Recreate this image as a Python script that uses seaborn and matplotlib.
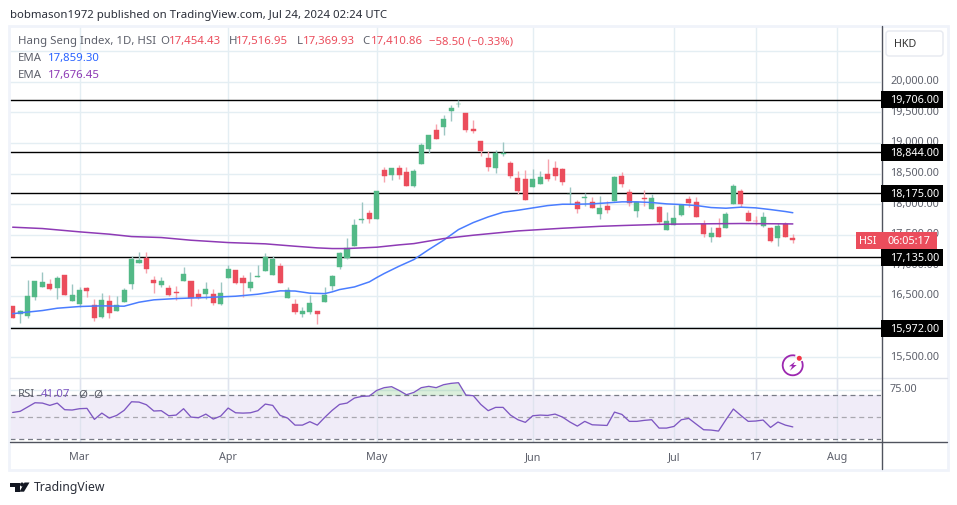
import numpy as np
import pandas as pd
import matplotlib
matplotlib.use('Agg')
import matplotlib.pyplot as plt
from matplotlib.patches import Arc, Circle, FancyBboxPatch, Polygon, Rectangle
from matplotlib.transforms import ScaledTranslation, blended_transform_factory
import seaborn as sns

open_px = [16332, 16201, 16169, 16479, 16643, 16692, 16626, 16839, 16414, 16365, 16626, 16348, 16152, 16414, 16250, 16397,
           16692, 17035, 17116, 16757, 16675, 16626, 16561, 16741, 16741, 16528, 16528, 16528, 16365, 16790, 16920, 16790,
           16626, 16806, 16904, 16839, 16986, 16463, 16365, 16201, 16234, 16250, 16397, 16658, 16969, 17127, 17312, 17742,
           17851, 17753, 18554, 18472, 18586, 18521, 18292, 18652, 18897, 19207, 19256, 19518, 19638, 19485, 19224, 19028,
           18750, 18586, 18826, 18668, 18423, 18407, 18276, 18325, 18488, 18586, 18570, 18167, 18031, 18107, 18031, 17835,
           17966, 18048, 18456, 18195, 17884, 18097, 17917, 17950, 17574, 17655, 17819, 18080, 18031, 17672, 17459, 17606,
           17606, 17999, 18211, 17852, 17732, 17639, 17606, 17443, 17683, 17454.43]
high_px = [16332, 16267, 16757, 16741, 16888, 16773, 16822, 16839, 16692, 16643, 16643, 16447, 16545, 16512, 16495, 16626,
           17149, 17214, 17214, 16822, 16806, 16675, 16659, 16969, 16741, 16610, 16724, 16610, 16724, 17002, 16920, 16839,
           16888, 17002, 17198, 17149, 17035, 16643, 16447, 16316, 16512, 16250, 16642, 16838, 17214, 17443, 17753, 18031,
           17900, 18211, 18603, 18586, 18635, 18603, 18570, 18995, 19126, 19305, 19452, 19616, 19708, 19485, 19371, 19028,
           18864, 18881, 19011, 18701, 18537, 18554, 18570, 18537, 18733, 18701, 18586, 18276, 18063, 18178, 18113, 18129,
           18048, 18456, 18522, 18244, 18031, 18227, 18162, 17966, 17868, 17982, 17999, 18129, 18113, 17737, 17623, 17770,
           17868, 18325, 18244, 17901, 17802, 17868, 17623, 17688, 17704, 17516.95]
low_px = [16136, 16060, 16136, 16430, 16643, 16594, 16447, 16512, 16414, 16316, 16479, 16087, 16136, 16136, 16250, 16397,
          16610, 17035, 16871, 16545, 16643, 16495, 16430, 16741, 16332, 16447, 16447, 16348, 16348, 16790, 16692, 16479,
          16577, 16806, 16904, 16839, 16708, 16463, 16201, 16152, 16201, 16038, 16397, 16593, 16936, 17110, 17312, 17688,
          17688, 17753, 18358, 18390, 18407, 18292, 18276, 18652, 18832, 19060, 19126, 19354, 19583, 19175, 19158, 18783,
          18537, 18505, 18783, 18423, 18162, 18063, 18276, 18325, 18374, 18390, 18309, 17998, 17851, 17965, 17933, 17753,
          17852, 18048, 18276, 17966, 17786, 17966, 17917, 17672, 17574, 17655, 17802, 17950, 17786, 17459, 17378, 17459,
          17606, 17999, 17950, 17721, 17655, 17623, 17378, 17312, 17459, 17369.93]
close_px = [16136, 16250, 16495, 16741, 16724, 16610, 16790, 16512, 16512, 16594, 16577, 16136, 16430, 16218, 16348, 16594,
            17100, 17084, 16937, 16708, 16741, 16512, 16545, 16855, 16474, 16463, 16610, 16381, 16545, 16937, 16708, 16708,
            16724, 16822, 17133, 17100, 16708, 16594, 16234, 16250, 16381, 16201, 16511, 16822, 17198, 17279, 17655, 17753,
            17753, 18211, 18456, 18586, 18472, 18292, 18537, 18962, 19126, 19060, 19387, 19567, 19643, 19207, 19191, 18864,
            18603, 18832, 18832, 18456, 18211, 18063, 18407, 18439, 18407, 18456, 18358, 18172, 17916, 18113, 17933, 17933,
            17901, 18440, 18325, 18015, 18031, 18086, 18097, 17704, 17721, 17770, 17982, 18015, 17786, 17508, 17525, 17459,
            17835, 18293, 17999, 17721, 17721, 17786, 17394, 17639, 17459, 17410.86]

ema_fast_bars = [0, 1, 4, 6, 9, 12, 15, 17, 19, 22, 26, 30, 33, 36, 38, 40, 42, 43, 44, 46, 48, 49, 50, 52, 54, 56, 58, 60,
                 62, 64, 66, 68, 70, 72, 74, 76, 78, 80, 82, 84, 86, 88, 90, 92, 94, 96, 98, 100, 102, 104, 105]
ema_fast = [16210, 16223, 16261, 16299, 16327, 16338, 16332, 16397, 16436, 16457, 16474, 16495, 16528, 16583, 16580, 16545,
            16538, 16566, 16604, 16647, 16729, 16800, 16866, 16985, 17094, 17257, 17410, 17584, 17699, 17791, 17867, 17900,
            17938, 17976, 17998, 17998, 18004, 18020, 18037, 18037, 18026, 18004, 17993, 17977, 17944, 17933, 17950, 17939,
            17911, 17879, 17859.30]
ema_slow_bars = [0, 4, 9, 13, 16, 20, 24, 29, 34, 38, 41, 43, 45, 47, 49, 52, 54, 58, 62, 68, 74, 79, 82, 88, 92, 98, 105]
ema_slow = [17623, 17601, 17547, 17509, 17470, 17454, 17410, 17372, 17351, 17312, 17285, 17274, 17274, 17285, 17296, 17334,
            17355, 17437, 17492, 17562, 17606, 17637, 17650, 17672, 17677, 17683, 17676.45]

rsi = [54.2, 55.2, 59.1, 63.0, 62.7, 60.6, 62.7, 56.7, 56.4, 57.6, 57.9, 47.9, 53.6, 49.1, 51.5, 56.1,
       63.9, 63.6, 61.2, 55.5, 55.8, 51.2, 51.8, 57.6, 50.0, 49.4, 52.7, 48.2, 50.9, 58.2, 53.9, 53.6,
       53.9, 55.8, 61.8, 60.6, 51.5, 49.1, 42.7, 42.7, 45.8, 42.7, 49.7, 56.1, 61.5, 62.7, 67.3, 68.8,
       69.1, 74.2, 76.7, 77.6, 74.2, 70.3, 72.4, 76.7, 77.9, 76.7, 79.4, 80.6, 81.2, 70.0, 69.4, 61.5,
       55.8, 58.8, 58.8, 51.8, 47.6, 45.2, 51.2, 51.8, 51.5, 52.7, 50.0, 45.5, 41.8, 46.1, 43.0, 42.7,
       42.4, 54.5, 52.4, 46.1, 46.1, 47.0, 47.6, 40.0, 40.0, 41.5, 47.6, 48.8, 43.6, 38.5, 38.2, 37.3,
       47.6, 57.3, 51.5, 46.1, 46.4, 47.3, 40.6, 45.5, 42.7, 41.07]

levels = [19706, 18844, 18175, 17135, 15972]
level_labels = ['19,706.00', '18,844.00', '18,175.00', '17,135.00', '15,972.00']
price_ticks = [15500, 16000, 16500, 17000, 17500, 18000, 18500, 19000, 19500, 20000]
price_grid = price_ticks + [20500]
date_bars = [9, 29, 49, 70, 89, 100, 111]
date_labels = ['Mar', 'Apr', 'May', 'Jun', 'Jul', '17', 'Aug']

GREEN = '#53b987'
RED = '#eb4d5c'
GRID = '#e4eef3'
TEXT = '#5d606b'
FS = 8.2
TICK_FS = 7.8

sns.set_theme(style='white')
plt.rcParams['font.family'] = ['Noto Sans', 'DejaVu Sans']

fig = plt.figure(figsize=(9.57, 5.06), dpi=100, facecolor='white')


def box(x0, y0, x1, y1):
    return [x0 / 957, 1 - y1 / 506, (x1 - x0) / 957, (y1 - y0) / 506]


ax = fig.add_axes(box(10, 28, 881, 379.3))
ax_rsi = fig.add_axes(box(10, 379.3, 881, 443.3))
top = fig.add_axes([0, 0, 1, 1], zorder=10)
top.set_xlim(0, 957)
top.set_ylim(506, 0)
top.axis('off')
top.patch.set_visible(False)

bars = np.arange(len(close_px))
opens = np.array(open_px)
closes = np.array(close_px)
up = closes >= opens

for a in (ax, ax_rsi):
    a.set_xlim(-0.36, 116.87)
    a.set_xticks(date_bars)
    a.grid(False)
    for x in date_bars:
        a.axvline(x, color=GRID, lw=1, zorder=0)
    for s in a.spines.values():
        s.set_visible(False)

# price pane
ax.set_ylim(15154, 20894)
for p in price_grid:
    ax.axhline(p, color=GRID, lw=1, zorder=0)
for lv in levels:
    ax.axhline(lv, color='black', lw=1.0, zorder=1)

ax.vlines(bars[up], np.array(low_px)[up], np.array(high_px)[up], color='#9cc6c2', lw=1.0, zorder=2)
ax.vlines(bars[~up], np.array(low_px)[~up], np.array(high_px)[~up], color='#f6a3ad', lw=1.0, zorder=2)
ax.bar(bars[up], (closes - opens)[up], bottom=opens[up], width=0.68, color=GREEN, edgecolor=GREEN, lw=0.3, zorder=3)
ax.bar(bars[~up], (opens - closes)[~up], bottom=closes[~up], width=0.68, color=RED, edgecolor=RED, lw=0.3, zorder=3)

ema_df = pd.DataFrame({'bar': ema_fast_bars, 'value': ema_fast})
sns.lineplot(data=ema_df, x='bar', y='value', color='#4a7dff', lw=1.1, ax=ax, zorder=4)
ema_df = pd.DataFrame({'bar': ema_slow_bars, 'value': ema_slow})
sns.lineplot(data=ema_df, x='bar', y='value', color='#8e3ab5', lw=1.1, ax=ax, zorder=4)

ax.set_xlabel('')
ax.set_ylabel('')
ax.yaxis.tick_right()
ax.set_yticks(price_ticks)
ax.set_yticklabels([f'{p:,.2f}' for p in price_ticks], fontsize=TICK_FS, color=TEXT)
ax.tick_params(axis='y', length=0, pad=6.5)
ax.tick_params(axis='x', length=0, labelbottom=False)

# rsi pane
ax_rsi.set_ylim(27.1, 85.2)
ax_rsi.axhspan(30, 70, color='#f0ecf8', lw=0, zorder=0)
for x in date_bars:
    ax_rsi.axvline(x, color='#dfe3ee', lw=1, zorder=0.5)
ax_rsi.axhline(75, color=GRID, lw=1, zorder=0.5)
ax_rsi.axhline(70, color='#787b86', lw=0.9, dashes=(4, 3), zorder=1)
ax_rsi.axhline(50, color='#a9a8b0', lw=0.9, dashes=(4, 3), zorder=1)
ax_rsi.axhline(30, color='#787b86', lw=0.9, dashes=(4, 3), zorder=1)
rsi_arr = np.array(rsi)
ax_rsi.fill_between(bars, 70, rsi_arr, where=rsi_arr > 70, interpolate=True, color='#4caf50', alpha=0.2, lw=0, zorder=1)
rsi_df = pd.DataFrame({'bar': bars, 'rsi': rsi})
sns.lineplot(data=rsi_df, x='bar', y='rsi', color='#7e57c2', lw=0.95, ax=ax_rsi, zorder=3)
ax_rsi.set_xlabel('')
ax_rsi.set_ylabel('')
ax_rsi.set_xticklabels(date_labels, fontsize=TICK_FS, color=TEXT)
ax_rsi.yaxis.tick_right()
ax_rsi.set_yticks([75])
ax_rsi.set_yticklabels(['75.00'], fontsize=TICK_FS, color=TEXT)
ax_rsi.tick_params(axis='y', length=0, pad=6.5)
ax_rsi.tick_params(axis='x', length=0, pad=6)

# tick text sits a little above its gridline in the original
lift = ScaledTranslation(0, 2.5 / 100, fig.dpi_scale_trans)
for lab in ax.get_yticklabels() + ax_rsi.get_yticklabels():
    lab.set_transform(lab.get_transform() + lift)

# frame and separators
top.add_patch(Rectangle((9, 27), 938.5, 444, fill=False, ec='#f0f3fa', lw=2))
top.plot([10, 947], [379.3, 379.3], color='#e0e3eb', lw=1)
top.plot([10, 947], [443.3, 443.3], color='#50535e', lw=1)
top.plot([881.5, 881.5], [27, 470], color='#50535e', lw=1)

# price tags: x in figure pixels, y in price
tag = blended_transform_factory(top.transData, ax.transData)
tag_half = 8.5 * 16.34
for lv, lab in zip(levels, level_labels):
    top.add_patch(Rectangle((881, lv - tag_half), 62, 2 * tag_half, transform=tag, fc='black', ec='none', zorder=6))
    top.text(914.5, lv, lab, transform=tag, ha='center', va='center', fontsize=TICK_FS, fontweight='bold',
             color='white', zorder=7)
top.add_patch(Rectangle((856, close_px[-1] - tag_half), 24.5, 2 * tag_half, transform=tag, fc=RED, ec='none', zorder=6))
top.add_patch(Rectangle((881, close_px[-1] - tag_half), 56, 2 * tag_half, transform=tag, fc=RED, ec='none', zorder=6))
top.text(868, close_px[-1], 'HSI', transform=tag, ha='center', va='center', fontsize=TICK_FS, color='white', zorder=7)
top.text(909, close_px[-1], '06:05:17', transform=tag, ha='center', va='center', fontsize=TICK_FS, color='white', zorder=7)

# header and legend texts
top.text(10, 15, 'bobmason1972 published on TradingView.com, Jul 24, 2024 02:24 UTC', fontsize=FS, color='#2a2e39',
         va='center')
top.text(18, 41.5, 'Hang Seng Index, 1D, HSI', fontsize=FS, color=TEXT, va='center')
for x, lab, col in [(160, 'O', TEXT), (168.5, '17,454.43', RED), (228.5, 'H', TEXT), (236, '17,516.95', RED),
                    (296.5, 'L', TEXT), (302.5, '17,369.93', RED), (362.5, 'C', TEXT), (370.5, '17,410.86', RED),
                    (429, '\u221258.50 (\u22120.33%)', RED)]:
    top.text(x, 41.5, lab, fontsize=FS, color=col, va='center')
top.text(18, 58.5, 'EMA', fontsize=FS, color=TEXT, va='center')
top.text(48, 58.5, '17,859.30', fontsize=FS, color='#2962ff', va='center')
top.text(18, 75.5, 'EMA', fontsize=FS, color=TEXT, va='center')
top.text(48, 75.5, '17,676.45', fontsize=FS, color='#8e3ab5', va='center')
top.text(18, 395, 'RSI', fontsize=FS, color=TEXT, va='center')
top.text(41, 395, '41.07', fontsize=FS, color='#7e57c2', va='center')
top.text(78, 395, '\u00d8', fontsize=FS, color=TEXT, va='center')
top.text(93, 395, '\u00d8', fontsize=FS, color=TEXT, va='center')

# HKD button
top.add_patch(FancyBboxPatch((887, 33), 55, 23, boxstyle='round,pad=1,rounding_size=3', fc='white', ec='#e6e9f0', lw=1))
top.text(894, 44.5, 'HKD', fontsize=TICK_FS, color='#333333', va='center')

# lightning badge
top.add_patch(Arc((792.7, 366.3), 20, 20, theta1=-25, theta2=285, ec='#9c27b0', lw=1.3))
top.add_patch(Polygon([(795, 362.7), (789, 367.3), (792.3, 367.3), (790, 371.7), (796.7, 366), (793.3, 366)],
                      closed=True, fc='#9c27b0', ec='none'))
top.add_patch(Circle((799.3, 359.3), 2.5, fc='#f23645', ec='none'))

# TradingView logo
logo = '#131722'
top.add_patch(Polygon([(10, 483.5), (19.5, 483.5), (19.5, 492.7), (14.5, 492.7), (14.5, 487.5), (10, 487.5)],
                      closed=True, fc=logo, ec='none'))
top.add_patch(Circle((22, 485.5), 2, fc=logo, ec='none'))
top.add_patch(Polygon([(24.5, 483.5), (29.5, 483.5), (24, 492.7), (19.5, 492.7)], closed=True, fc=logo, ec='none'))
top.text(33.5, 488, 'TradingView', fontsize=8.8, color='#2a2e39', va='center')

fig.savefig('out.png', dpi=100)
